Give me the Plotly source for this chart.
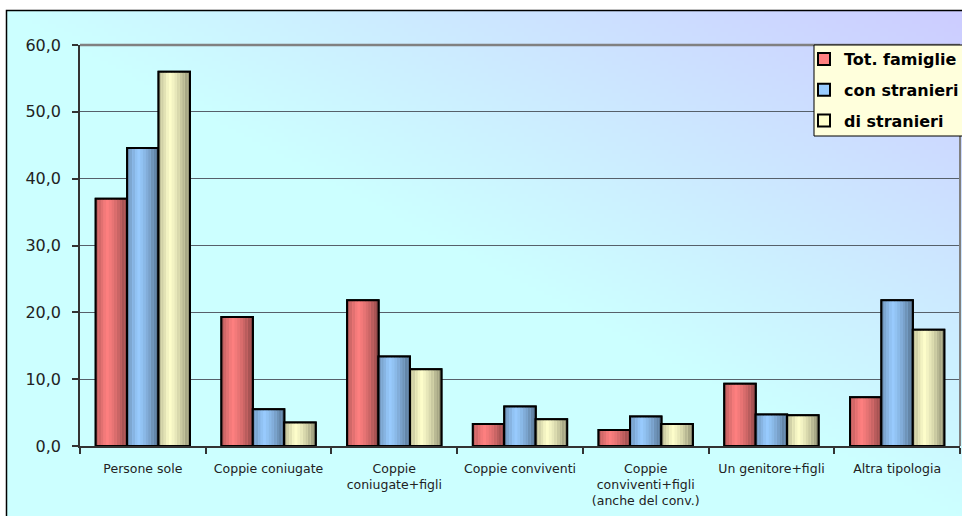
import zlib, struct, base64
import plotly.graph_objects as go

# ---------------- data ----------------
categories = [
    "Persone sole",
    "Coppie coniugate",
    "Coppie<br>coniugate+figli",
    "Coppie conviventi",
    "Coppie<br>conviventi+figli<br>(anche del conv.)",
    "Un genitore+figli",
    "Altra tipologia",
]
tot_famiglie = [37.0, 19.3, 21.8, 3.3, 2.4, 9.3, 7.3]
con_stranieri = [44.6, 5.5, 13.4, 5.9, 4.4, 4.7, 21.8]
di_stranieri = [56.0, 3.5, 11.5, 4.0, 3.3, 4.6, 17.4]
series_names = ["Tot. famiglie", "con stranieri", "di stranieri"]
y_ticks = [0, 10, 20, 30, 40, 50, 60]

# ---------------- layout geometry (pixels) ----------------
FW, FH = 962, 516
PL, PR, PT, PB = 80, 960, 45, 446   # plot area in pixels


def px_x(p):
    return (p - PL) / (PR - PL)


def px_y(p):
    return (PB - p) / (PB - PT)


def png_data_uri(w, h, fn):
    rows = []
    for y in range(h):
        row = bytearray([0])
        for x in range(w):
            row.extend(fn(x, y))
        rows.append(bytes(row))
    raw = b"".join(rows)

    def chunk(tag, data):
        return (struct.pack(">I", len(data)) + tag + data
                + struct.pack(">I", zlib.crc32(tag + data) & 0xFFFFFFFF))

    png = (b"\x89PNG\r\n\x1a\n"
           + chunk(b"IHDR", struct.pack(">IIBBBBB", w, h, 8, 2, 0, 0, 0))
           + chunk(b"IDAT", zlib.compress(raw, 9))
           + chunk(b"IEND", b""))
    return "data:image/png;base64," + base64.b64encode(png).decode()


GW, GH = 240, 126
lav = (204, 204, 255)
cyan = (204, 255, 255)


def bg_pix(x, y):
    t = (GW - 1 - x) / (GW - 1) + y / (GH - 1)
    t = max(0.0, min(1.0, t))
    return bytes(int(round(lav[i] * (1 - t) + cyan[i] * t)) for i in range(3))


bg_uri = png_data_uri(GW, GH, bg_pix)

base_colors = [(255, 128, 128), (153, 204, 255), (255, 255, 204)]
values = [tot_famiglie, con_stranieri, di_stranieri]

BARW = 0.25
NSTRIP = 12


def shade(u):
    # cylinder-like shading: darker left edge, bright ~35%, dark right edge
    if u < 0.35:
        return 0.72 + (1.0 - 0.72) * (u / 0.35)
    return 1.0 - (1.0 - 0.55) * ((u - 0.35) / 0.65) ** 1.3


fig = go.Figure()
for i, (name, vals, col) in enumerate(zip(series_names, values, base_colors)):
    off = -0.375 + i * BARW
    rgb = "rgb(%d,%d,%d)" % col
    fig.add_trace(go.Bar(
        x=categories, y=vals, name=name, width=BARW, offset=off,
        marker=dict(color=rgb, line=dict(color="black", width=2)),
        legendgroup=name, hoverinfo="skip",
    ))
    sw = BARW / NSTRIP
    for k in range(NSTRIP):
        u = (k + 0.5) / NSTRIP
        f = shade(u)
        c = "rgb(%d,%d,%d)" % tuple(int(v * f) for v in col)
        fig.add_trace(go.Bar(
            x=categories, y=vals, width=sw, offset=off + k * sw,
            marker=dict(color=c, line=dict(width=0)),
            showlegend=False, legendgroup=name, hoverinfo="skip",
        ))
    fig.add_trace(go.Bar(
        x=categories, y=vals, width=BARW, offset=off,
        marker=dict(color="rgba(0,0,0,0)", line=dict(color="black", width=2)),
        showlegend=False, legendgroup=name, hoverinfo="skip",
    ))

fig.update_layout(
    width=FW, height=FH,
    margin=dict(l=PL, r=FW - PR, t=PT, b=FH - PB, autoexpand=False),
    paper_bgcolor="white",
    plot_bgcolor="rgba(0,0,0,0)",
    barmode="overlay",
    separators=",.",
    showlegend=True,
    font=dict(family="DejaVu Sans", color="#222222"),
    legend=dict(
        x=px_x(804), y=px_y(42), xanchor="left", yanchor="top",
        bgcolor="rgba(0,0,0,0)", borderwidth=0,
        font=dict(family="DejaVu Sans", size=16, color="black", weight="bold"),
        tracegroupgap=7, itemclick=False,
    ),
    images=[dict(
        source=bg_uri, xref="paper", yref="paper",
        x=px_x(6), y=px_y(10), sizex=960 / (PR - PL), sizey=510 / (PB - PT),
        xanchor="left", yanchor="top", sizing="stretch", layer="below",
    )],
    shapes=[
        dict(type="rect", xref="paper", yref="paper",
             x0=px_x(6.5), x1=px_x(990), y0=px_y(540), y1=px_y(10.5),
             line=dict(color="black", width=1.5), fillcolor="rgba(0,0,0,0)",
             layer="below"),
        dict(type="line", xref="paper", yref="paper", x0=0, x1=1, y0=1, y1=1,
             line=dict(color="#808080", width=2.5), layer="above"),
        dict(type="line", xref="paper", yref="paper", x0=1, x1=1, y0=0, y1=1,
             line=dict(color="#808080", width=2), layer="above"),
        dict(type="rect", xref="paper", yref="paper",
             x0=px_x(814), x1=px_x(990), y0=px_y(136), y1=px_y(45),
             line=dict(color="black", width=1), fillcolor="#FFFFDC",
             layer="above"),
    ],
    xaxis=dict(
        type="category", showgrid=False, showline=True, linecolor="#333333",
        linewidth=1.5, ticks="outside", tickson="boundaries", ticklen=6,
        tickcolor="#333333", tickwidth=1.5,
        tickfont=dict(family="DejaVu Sans", size=12.5, color="#222222"),
        ticklabelstandoff=10, zeroline=False,
    ),
    yaxis=dict(
        range=[0, 60], tickvals=y_ticks, tickformat=".1f",
        showgrid=True, gridcolor="#56606a", gridwidth=1,
        showline=True, linecolor="#333333", linewidth=1.5,
        ticks="outside", ticklen=6, tickcolor="#333333", tickwidth=1.5,
        tickfont=dict(family="DejaVu Sans", size=16, color="#222222"),
        ticklabelstandoff=8, zeroline=False,
    ),
)

# remove the page's default body margin so the 962x516 figure fills the window
fig.write_html(
    "out.html",
    config={"displayModeBar": False},
    post_script="document.body.style.margin='0';"
                "document.body.style.overflow='hidden';",
)
